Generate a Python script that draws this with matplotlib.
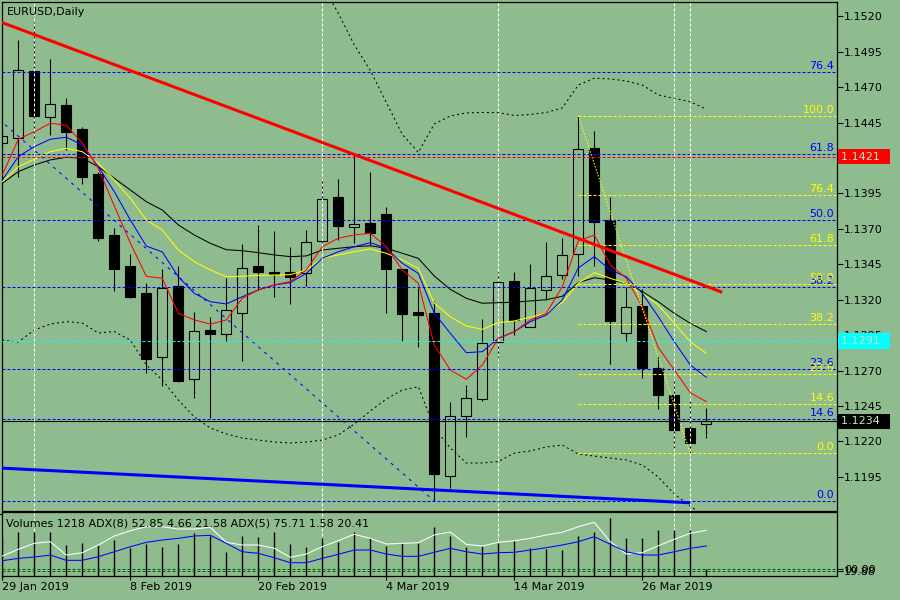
import math
import matplotlib
matplotlib.use("Agg")
import matplotlib.pyplot as plt
from matplotlib.transforms import blended_transform_factory

BG = '#8fbc8f'

# bar index 0 = 29 Jan 2019 ... 44 = 1 Apr 2019
date_pos = [0, 8, 16, 24, 32, 40]
date_labels = ["29 Jan 2019", "8 Feb 2019", "20 Feb 2019", "4 Mar 2019", "14 Mar 2019", "26 Mar 2019"]

opens = [1.14305, 1.14340, 1.14815, 1.14488, 1.14573, 1.14403, 1.14088, 1.13657, 1.13438, 1.13245,
         1.12793, 1.13297, 1.12642, 1.12986, 1.12956, 1.13108, 1.13438, 1.13396, 1.13396, 1.13391,
         1.13615, 1.13925, 1.13711, 1.13742, 1.13805, 1.13417, 1.13113, 1.13106, 1.11953, 1.12381,
         1.12497, 1.12903, 1.13332, 1.13009, 1.13266, 1.13372, 1.13521, 1.14269, 1.13761, 1.12963,
         1.13156, 1.12716, 1.12527, 1.12294, 1.12322]
highs = [1.14410, 1.15034, 1.15163, 1.14898, 1.14622, 1.14422, 1.14104, 1.13706, 1.13523, 1.13320,
         1.13417, 1.13438, 1.13113, 1.13078, 1.13355, 1.13593, 1.13725, 1.13685, 1.13572, 1.13692,
         1.14045, 1.14052, 1.14234, 1.14102, 1.13853, 1.13417, 1.13280, 1.13193, 1.12478, 1.12598,
         1.13064, 1.13394, 1.13394, 1.13452, 1.13605, 1.13634, 1.14500, 1.14391, 1.13923, 1.13292,
         1.13272, 1.12802, 1.12633, 1.12485, 1.12437]
lows = [1.14270, 1.14069, 1.14328, 1.14363, 1.14257, 1.14017, 1.13617, 1.13264, 1.13212, 1.12684,
        1.12593, 1.12619, 1.12504, 1.12362, 1.12910, 1.12769, 1.13269, 1.13221, 1.13172, 1.13297,
        1.13600, 1.13622, 1.13598, 1.13586, 1.13104, 1.12910, 1.12868, 1.11785, 1.11868, 1.12232,
        1.12488, 1.12796, 1.12951, 1.13009, 1.13198, 1.13348, 1.13370, 1.13440, 1.12744, 1.12910,
        1.12649, 1.12428, 1.12155, 1.12110, 1.12225]
closes = [1.14354, 1.14820, 1.14499, 1.14580, 1.14386, 1.14069, 1.13638, 1.13419, 1.13221, 1.12783,
          1.13283, 1.12628, 1.12977, 1.12958, 1.13125, 1.13424, 1.13398, 1.13381, 1.13362, 1.13605,
          1.13909, 1.13723, 1.13732, 1.13673, 1.13419, 1.13101, 1.13094, 1.11967, 1.12377, 1.12504,
          1.12894, 1.13323, 1.13057, 1.13281, 1.13365, 1.13514, 1.14262, 1.13751, 1.13052, 1.13146,
          1.12720, 1.12527, 1.12282, 1.12188, 1.12340]

ma_red = [1.14081, 1.14333, 1.14386, 1.14446, 1.14432, 1.14305, 1.14128, 1.13862, 1.13600, 1.13365,
          1.13351, 1.13104, 1.13057, 1.13028, 1.13057, 1.13210, 1.13269, 1.13304, 1.13329, 1.13410,
          1.13574, 1.13634, 1.13657, 1.13669, 1.13574, 1.13410, 1.13316, 1.12880, 1.12704, 1.12638,
          1.12739, 1.12927, 1.12974, 1.13057, 1.13104, 1.13292, 1.13615, 1.13657, 1.13445, 1.13351,
          1.13151, 1.12862, 1.12704, 1.12543, 1.12480]
ma_blue = [1.14045, 1.14210, 1.14281, 1.14333, 1.14347, 1.14293, 1.14139, 1.13963, 1.13763, 1.13579,
           1.13537, 1.13362, 1.13245, 1.13186, 1.13170, 1.13221, 1.13269, 1.13304, 1.13321, 1.13386,
           1.13492, 1.13539, 1.13574, 1.13603, 1.13563, 1.13457, 1.13386, 1.13104, 1.12963, 1.12826,
           1.12833, 1.12927, 1.12974, 1.13045, 1.13092, 1.13198, 1.13424, 1.13504, 1.13410, 1.13362,
           1.13245, 1.13080, 1.12903, 1.12739, 1.12652]
ma_yellow = [1.14033, 1.14139, 1.14192, 1.14245, 1.14269, 1.14245, 1.14163, 1.14045, 1.13916, 1.13763,
             1.13692, 1.13551, 1.13468, 1.13410, 1.13362, 1.13365, 1.13372, 1.13374, 1.13377, 1.13410,
             1.13492, 1.13516, 1.13539, 1.13558, 1.13528, 1.13480, 1.13422, 1.13175, 1.13080, 1.13014,
             1.12991, 1.13038, 1.13050, 1.13076, 1.13106, 1.13180, 1.13316, 1.13391, 1.13351, 1.13316,
             1.13245, 1.13163, 1.13033, 1.12903, 1.12822]
ma_black = [1.14022, 1.14104, 1.14151, 1.14187, 1.14206, 1.14199, 1.14139, 1.14057, 1.13975, 1.13892,
            1.13833, 1.13728, 1.13657, 1.13598, 1.13553, 1.13546, 1.13532, 1.13516, 1.13504, 1.13509,
            1.13551, 1.13563, 1.13574, 1.13581, 1.13563, 1.13528, 1.13492, 1.13367, 1.13273, 1.13210,
            1.13175, 1.13179, 1.13182, 1.13191, 1.13200, 1.13224, 1.13321, 1.13355, 1.13339, 1.13316,
            1.13257, 1.13186, 1.13104, 1.13033, 1.12975]

nan = math.nan
bb_upper = [nan] * 20 + [1.15422, 1.15223, 1.14999, 1.14819, 1.14593, 1.14367, 1.14240, 1.14441, 1.14497, 1.14519,
                         1.14522, 1.14521, 1.14501, 1.14508, 1.14522, 1.14554, 1.14716, 1.14764, 1.14759, 1.14744,
                         1.14716, 1.14646, 1.14621, 1.14598, 1.14545]
bb_lower = [1.12915, 1.12901, 1.12986, 1.13028, 1.13045, 1.13035, 1.12965, 1.12975, 1.12915, 1.12739,
            1.12633, 1.12492, 1.12372, 1.12294, 1.12252, 1.12223, 1.12209, 1.12195, 1.12188, 1.12195,
            1.12209, 1.12245, 1.12322, 1.12414, 1.12499, 1.12562, 1.12586, 1.12294, 1.12153, 1.12047,
            1.12047, 1.12057, 1.12117, 1.12132, 1.12160, 1.12174, 1.12110, 1.12096, 1.12082, 1.12068,
            1.12033, 1.11948, 1.11828, 1.11743, 1.11658]

volumes = [7000, 7779, 7779, 7779, 5518, 5821, 5518, 6408, 4931, 5696,
           5215, 5696, 7601, 7120, 4219, 7120, 6995, 7779, 5696, 5215,
           6711, 6105, 7779, 6711, 5393, 5821, 5821, 8669, 7120, 5215,
           5340, 5927, 6283, 4931, 4753, 4628, 7120, 7885, 10271, 6711,
           6711, 8188, 8188, 8188, 1218]
adx_white = [38.3, 48.0, 56.8, 59.1, 39.7, 43.1, 54.3, 67.4, 75.1, 80.9,
             80.9, 77.6, 77.6, 80.1, 58.2, 54.3, 54.3, 49.5, 36.4, 41.2,
             51.8, 60.6, 69.9, 64.0, 55.7, 56.8, 57.6, 68.9, 73.2, 55.3,
             52.8, 58.2, 60.6, 64.0, 68.9, 72.8, 80.9, 87.3, 59.1, 41.2,
             43.1, 53.3, 62.6, 71.3, 75.71]
adx_blue = [31.4, 34.9, 36.8, 39.7, 32.0, 32.0, 37.3, 44.5, 51.8, 58.2,
            61.6, 64.0, 67.4, 68.4, 56.8, 44.5, 42.2, 35.8, 28.5, 28.5,
            34.9, 40.8, 47.0, 47.0, 41.2, 37.8, 37.8, 43.7, 49.5, 44.5,
            41.2, 43.1, 43.7, 47.0, 50.4, 54.3, 59.1, 66.4, 55.3, 44.5,
            39.7, 39.7, 44.5, 49.5, 52.85]

price_ticks = [1.1520, 1.1495, 1.1470, 1.1445, 1.1420, 1.1395, 1.1370, 1.1345,
               1.1320, 1.1295, 1.1270, 1.1245, 1.1220, 1.1195]

# objects drawn on the chart
red_trend_x, red_trend_y = [-5, 45], [1.15368, 1.13252]
blue_trend_x, blue_trend_y = [-5, 43], [1.12039, 1.11766]
blue_fib_x = [-13, 27]
blue_fib_hi, blue_fib_lo = 1.15741, 1.11778
blue_fib_levels = [76.4, 61.8, 50.0, 38.2, 23.6, 14.6, 0.0]
yellow_fib_x = [36, 43]
yellow_fib_hi, yellow_fib_lo = 1.14500, 1.12115
yellow_fib_levels = [100.0, 76.4, 61.8, 50.0, 38.2, 23.6, 14.6, 0.0]
vlines_at = [2, 20, 31, 42, 43]
price_boxes = [(1.1421, 'red'), (1.1291, 'cyan'), (1.1234, 'black')]

n = len(opens)
idx = list(range(n))
XLIM = (-0.02, 52.17)
DASH = (0, (2.9, 1.9))

fig = plt.figure(figsize=(9, 6), dpi=100, facecolor=BG)
ax = fig.add_axes([2 / 900, 1 - 511 / 600, 835 / 900, 509 / 600], facecolor=BG)
vax = fig.add_axes([2 / 900, 1 - 576 / 600, 835 / 900, 63.7 / 600], facecolor=BG)

# candles
for i in idx:
    o, h, l, c = opens[i], highs[i], lows[i], closes[i]
    lo_b, hi_b = min(o, c), max(o, c)
    ax.vlines(i, l, lo_b, color='black', lw=0.8, zorder=2)
    ax.vlines(i, hi_b, h, color='black', lw=0.8, zorder=2)
    ax.bar(i, max(hi_b - lo_b, 0.00001), bottom=lo_b, width=0.62,
           facecolor='none' if c >= o else 'black', edgecolor='black', lw=0.8, zorder=2)

# indicators
ax.plot(idx, ma_black, color='black', lw=0.75, zorder=3)
ax.plot(idx, ma_yellow, color='#ffff00', lw=0.75, zorder=3)
ax.plot(idx, ma_blue, color='#0000ff', lw=0.75, zorder=3)
ax.plot(idx, ma_red, color='#ff0000', lw=0.75, zorder=3)
ax.plot(idx, bb_upper, color='black', lw=0.75, ls=(0, (1.9, 2.9)), zorder=3)
ax.plot(idx, bb_lower, color='black', lw=0.75, ls=(0, (1.9, 2.9)), zorder=3)

trans = blended_transform_factory(ax.transAxes, ax.transData)

# blue fibo
for lv in blue_fib_levels:
    p = blue_fib_lo + lv / 100 * (blue_fib_hi - blue_fib_lo)
    ax.axhline(p, color='#0000ff', lw=0.75, ls=DASH, zorder=4)
    ax.annotate(f'{lv:.1f}', xy=(1, p), xycoords=trans, xytext=(-2, 2.2), textcoords='offset points',
                ha='right', va='baseline', fontsize=8, color='#0000ff', zorder=6)
ax.plot(blue_fib_x, [blue_fib_hi, blue_fib_lo], color='#0000ff', lw=0.75, ls=(0, (2.9, 4.8)), zorder=4)

# yellow fibo
for lv in yellow_fib_levels:
    p = yellow_fib_lo + lv / 100 * (yellow_fib_hi - yellow_fib_lo)
    ax.hlines(p, yellow_fib_x[0], XLIM[1], color='#ffff00', lw=0.75, ls=DASH, zorder=4)
    ax.annotate(f'{lv:.1f}', xy=(1, p), xycoords=trans, xytext=(-2, 2.2), textcoords='offset points',
                ha='right', va='baseline', fontsize=8, color='#ffff00', zorder=6)
ax.plot(yellow_fib_x, [yellow_fib_hi, yellow_fib_lo], color='#ffff00', lw=0.75, ls=(0, (1.5, 1.5)), zorder=4)

# horizontal price lines
ax.axhline(1.1421, color='#ff0000', lw=0.75, ls=DASH, zorder=4)
ax.axhline(1.1291, color='#00ffff', lw=0.75, ls=DASH, zorder=4)
ax.axhline(1.1234, color='black', lw=0.8, zorder=4)

# trend lines
ax.plot(red_trend_x, red_trend_y, color='#ff0000', lw=2.2, zorder=5, solid_capstyle='butt')
ax.plot(blue_trend_x, blue_trend_y, color='#0000ff', lw=2.2, zorder=5, solid_capstyle='butt')

for v in vlines_at:
    ax.axvline(v, color='white', lw=0.75, ls=DASH, zorder=4)
    vax.axvline(v, color='white', lw=0.75, ls=DASH, zorder=1)

ax.set_xlim(XLIM)
ax.set_ylim(1.11708, 1.15302)
ax.set_xticks([])
ax.yaxis.tick_right()
ax.set_yticks(price_ticks)
ax.set_yticklabels([f'{t:.4f}' for t in price_ticks])
ax.tick_params(axis='y', length=4, width=0.8, pad=1, labelsize=8, colors='black')
for s in ax.spines.values():
    s.set_linewidth(0.9)
    s.set_color('black')

for val, fc in price_boxes:
    ax.annotate(f'{val:.4f}  ', xy=(1, val), xycoords=trans, xytext=(3, 0), textcoords='offset points',
                ha='left', va='center', fontsize=8, color='#c4e4c4',
                bbox=dict(boxstyle='square,pad=0.25', fc=fc, ec='none'), zorder=10, annotation_clip=False)

fig.text(7 / 900, 1 - 12 / 600, 'EURUSD,Daily', fontsize=8, va='center', ha='left')

# volume / ADX window
vax.vlines(idx, 0, volumes, color='black', lw=1.0, zorder=2)
vax.set_xlim(XLIM)
vax.set_ylim(0, 11342)
vax.yaxis.tick_right()
vax.set_yticks([11039])
vax.set_yticklabels(['11039'])
vax.set_xticks(date_pos)
vax.set_xticklabels(date_labels, ha='left')
vax.tick_params(axis='x', length=3, width=0.8, pad=1.5, labelsize=8)
vax.tick_params(axis='y', length=4, width=0.8, pad=1, labelsize=8)
for s in vax.spines.values():
    s.set_linewidth(0.9)

adx = vax.twinx()
adx.set_ylim(9.2, 101.9)
adx.axhline(20, color='#006400', lw=0.75, ls=DASH)
adx.axhline(16, color='#006400', lw=0.75, ls=DASH)
adx.plot(idx, adx_white, color='white', lw=0.75)
adx.plot(idx, adx_blue, color='#0000ff', lw=0.75)
adx.set_yticks([19.0, 17.0])
adx.set_yticklabels(['00.00', '19.88'])
adx.tick_params(axis='y', length=4, width=0.8, pad=1, labelsize=8)
for s in adx.spines.values():
    s.set_visible(False)

fig.text(6 / 900, 1 - 524 / 600, 'Volumes 1218 ADX(8) 52.85 4.66 21.58 ADX(5) 75.71 1.58 20.41',
         fontsize=8, va='center', ha='left')

fig.savefig('out.png', dpi=100, facecolor=BG)
